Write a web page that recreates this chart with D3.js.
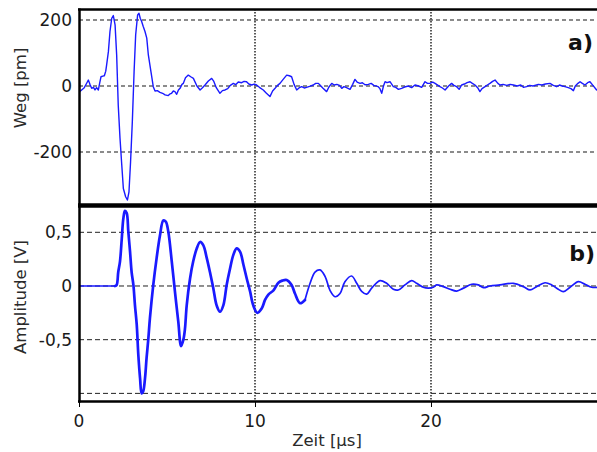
<!DOCTYPE html>
<html><head><meta charset="utf-8">
<script src="https://cdn.jsdelivr.net/npm/d3@7"></script>
<style>body{margin:0;background:#fff}svg{display:block}text{font-family:"DejaVu Sans",Verdana,sans-serif}</style>
</head><body>
<svg id="c" width="597" height="452"></svg>
<script>
// ---- data ----
const xTicks = [0, 10, 20];
const xTickLabels = ["0", "10", "20"];
const wegTicks = [-200, 0, 200];
const wegTickLabels = ["-200", "0", "200"];
const ampTicks = [-1, -0.5, 0, 0.5];
const ampTickLabels = ["", "-0,5", "0", "0,5"];
const wegT = [0,0.15,0.3,0.45,0.53,0.62,0.72,0.82,0.91,1.0,1.1,1.18,1.25,1.35,1.44,1.52,1.57,1.67,1.76,1.86,1.95,2.05,2.14,2.23,2.33,2.43,2.52,2.65,2.75,2.84,2.93,3.03,3.13,3.22,3.33,3.41,3.48,3.56,3.65,3.75,3.85,3.94,4.09,4.22,4.32,4.45,4.6,4.75,4.89,5.07,5.17,5.26,5.36,5.45,5.55,5.65,5.74,5.85,5.93,6.05,6.21,6.35,6.5,6.7,6.88,7.0,7.16,7.35,7.54,7.65,7.8,8.01,8.15,8.3,8.45,8.6,8.77,8.9,9.05,9.24,9.38,9.52,9.65,9.81,9.95,10.09,10.25,10.47,10.65,10.85,11.0,11.14,11.28,11.42,11.6,11.8,11.95,12.08,12.22,12.37,12.5,12.65,12.8,12.93,13.1,13.31,13.45,13.6,13.69,13.85,14.07,14.2,14.36,14.5,14.65,14.8,14.93,15.05,15.2,15.4,15.55,15.68,15.8,15.97,16.1,16.25,16.44,16.6,16.75,17.0,17.1,17.2,17.3,17.39,17.5,17.67,17.86,18.0,18.15,18.33,18.5,18.71,18.9,19.09,19.3,19.47,19.66,19.8,19.94,20.1,20.23,20.4,20.51,20.65,20.8,21.0,21.17,21.3,21.46,21.6,21.74,21.9,22.05,22.22,22.35,22.5,22.65,22.78,22.9,23.07,23.2,23.35,23.5,23.64,23.8,23.92,24.1,24.3,24.5,24.68,24.9,25.1,25.25,25.43,25.6,25.8,26.1,26.3,26.5,26.76,26.95,27.14,27.3,27.45,27.61,27.8,27.95,28.09,28.2,28.35,28.47,28.6,28.75,28.9,29.03,29.2,29.41,29.5];
const wegV = [-19,-12,-5,10,18,5,-7,-4,-12,-5,-12,10,28,30,31,45,64,104,165,205,213,185,94,-58,-158,-239,-310,-335,-345,-320,-229,-108,43,155,215,220,205,195,180,165,145,94,43,-2,-15,-14,-19,-22,-27,-29,-24,-22,-15,-17,-25,-12,-7,5,8,25,33,28,23,0,-12,-6,3,15,23,15,-5,-22,-14,-12,-8,2,8,4,12,10,14,13,6,3,6,3,-4,-12,-22,-32,-15,-7,2,8,20,33,31,28,5,-12,-6,-2,-6,-4,-1,3,8,8,3,-6,-17,-3,8,3,5,2,-7,-2,-5,-10,5,20,12,8,10,4,5,8,2,-2,-8,-22,0,13,10,13,-2,-4,-10,-7,-3,0,-5,3,0,-4,13,8,8,12,8,2,-2,-6,-12,0,8,2,-2,-10,3,6,10,13,8,3,-5,-17,-8,-2,3,8,14,18,8,3,5,2,5,3,0,3,-4,-2,2,0,5,3,6,8,2,-2,3,0,-2,-5,-8,-14,0,8,13,8,3,10,13,2,-12,-10];
const ampT = [0,2.05,2.14,2.23,2.33,2.43,2.52,2.61,2.71,2.8,2.9,2.99,3.09,3.18,3.28,3.37,3.47,3.56,3.65,3.75,3.84,3.94,4.03,4.22,4.41,4.6,4.79,4.93,5.07,5.27,5.45,5.64,5.8,5.93,6.02,6.12,6.31,6.49,6.69,6.88,7.06,7.26,7.44,7.63,7.82,8.01,8.2,8.39,8.58,8.77,8.96,9.15,9.34,9.53,9.72,9.9,10.13,10.38,10.57,10.76,11.05,11.33,11.55,11.8,12.08,12.27,12.56,12.84,13.13,13.41,13.69,13.98,14.26,14.55,14.83,15.11,15.49,15.78,16.06,16.35,16.63,17.1,17.48,17.86,18.14,18.52,18.9,19.18,19.56,19.85,20.13,20.32,20.7,21.08,21.46,21.84,22.31,22.69,22.98,23.35,23.92,24.68,25.25,25.63,26.0,26.48,26.86,27.23,27.52,27.9,28.37,28.75,29.13,29.5];
const ampV = [0,0,0.01,0.13,0.23,0.44,0.63,0.70,0.68,0.51,0.32,0.13,0.01,-0.18,-0.36,-0.64,-0.86,-1.0,-0.98,-0.86,-0.67,-0.49,-0.30,0.01,0.26,0.47,0.61,0.60,0.51,0.23,-0.05,-0.33,-0.56,-0.50,-0.40,-0.18,0.07,0.23,0.35,0.41,0.38,0.26,0.13,-0.02,-0.18,-0.24,-0.18,0.01,0.16,0.29,0.35,0.32,0.20,0.07,-0.05,-0.18,-0.25,-0.21,-0.13,-0.08,-0.04,0.03,0.05,0.056,0.01,-0.07,-0.16,-0.13,0.025,0.13,0.15,0.09,-0.04,-0.10,-0.07,0.04,0.093,0.025,-0.05,-0.075,-0.02,0.05,0.025,-0.03,-0.037,0.01,0.05,0.025,-0.012,-0.02,-0.012,0.01,-0.006,-0.03,-0.047,-0.02,0.016,0.01,-0.015,0,0.01,0.025,-0.006,-0.037,-0.006,0.03,0.01,-0.03,-0.053,-0.012,0.04,0.016,-0.012,-0.012];

// ---- layout ----
const svg = d3.select("#c");
const X0 = 79, X1 = 597;
const x = d3.scaleLinear().domain([0, 29.432]).range([X0, X1]);
const yW = d3.scaleLinear().domain([-360, 233]).range([205, 9]);
const yA = d3.scaleLinear().domain([-1.071, 0.745]).range([401, 206]);
const blue = "#1a1aff";

function grid(g, y, ticks, top, bot, hStroke, hWidth, hDash) {
  g.append("g").selectAll("line").data(ticks).join("line")
    .attr("x1", X0).attr("x2", X1).attr("y1", d => y(d)).attr("y2", d => y(d))
    .attr("stroke", hStroke).attr("stroke-width", hWidth).attr("stroke-dasharray", hDash);
  g.append("g").selectAll("line").data(xTicks.slice(1)).join("line")
    .attr("x1", d => x(d)).attr("x2", d => x(d)).attr("y1", top).attr("y2", bot)
    .attr("stroke", "#333").attr("stroke-width", 1.6).attr("stroke-dasharray", "1.5,1.5");
}

// top panel
const gT = svg.append("g");
grid(gT, yW, wegTicks, 9, 205, "#666", 1.5, "4,3");
svg.append("clipPath").attr("id", "clipT").append("rect").attr("x", X0).attr("y", 9).attr("width", X1 - X0).attr("height", 196);
gT.append("path").datum(wegT.map((t, i) => [t, wegV[i]]))
  .attr("clip-path", "url(#clipT)")
  .attr("fill", "none").attr("stroke", blue).attr("stroke-width", 1.4).attr("stroke-linejoin", "round")
  .attr("d", d3.line().x(d => x(d[0])).y(d => yW(d[1])));
gT.selectAll("text.yt").data(wegTicks).join("text").attr("class", "yt")
  .attr("x", 72).attr("y", d => yW(d)).attr("dy", "0.36em").attr("text-anchor", "end")
  .attr("font-size", 17).attr("fill", "#1a1a1a").text((d, i) => wegTickLabels[i]);

// bottom panel
const gB = svg.append("g");
grid(gB, yA, ampTicks, 206, 401, "#222", 1, "5,3");
svg.append("clipPath").attr("id", "clipB").append("rect").attr("x", X0).attr("y", 206).attr("width", X1 - X0).attr("height", 195);
const ampPts = ampT.map((t, i) => [t, ampV[i]]);
const lineA = d3.line().x(d => x(d[0])).y(d => yA(d[1])).curve(d3.curveCatmullRom.alpha(0.5));
const segs = [[0, 2.05, 1.7], [2.05, 12.84, 2.7], [12.84, 30, 1.7]];
segs.forEach(([a, b, w]) => {
  gB.append("path").datum(ampPts.filter(d => d[0] >= a && d[0] <= b))
    .attr("clip-path", "url(#clipB)")
    .attr("fill", "none").attr("stroke", blue).attr("stroke-width", w).attr("stroke-linejoin", "round").attr("stroke-linecap", "round")
    .attr("d", lineA);
});
gB.selectAll("text.yt").data(ampTicks).join("text").attr("class", "yt")
  .attr("x", 72).attr("y", d => yA(d)).attr("dy", "0.36em").attr("text-anchor", "end")
  .attr("font-size", 17).attr("fill", "#1a1a1a").text((d, i) => ampTickLabels[i]);

// frame lines
svg.append("line").attr("x1", X0 - 1).attr("x2", X1).attr("y1", 9.5).attr("y2", 9.5).attr("stroke", "#000").attr("stroke-width", 2.5);
svg.append("line").attr("x1", X0 - 1).attr("x2", X1).attr("y1", 205.5).attr("y2", 205.5).attr("stroke", "#000").attr("stroke-width", 4.5);
svg.append("line").attr("x1", X0 - 1).attr("x2", X1).attr("y1", 401.5).attr("y2", 401.5).attr("stroke", "#000").attr("stroke-width", 2.5);
svg.append("line").attr("x1", X0 + 0.5).attr("x2", X0 + 0.5).attr("y1", 8.5).attr("y2", 402.5).attr("stroke", "#000").attr("stroke-width", 2.5);

// x axis ticks and labels
svg.append("g").selectAll("line").data(xTicks).join("line")
  .attr("x1", d => x(d) + 0.5).attr("x2", d => x(d) + 0.5).attr("y1", 402).attr("y2", 407)
  .attr("stroke", "#000").attr("stroke-width", 1);
svg.append("g").selectAll("text").data(xTicks).join("text")
  .attr("x", d => x(d)).attr("y", 427).attr("text-anchor", "middle")
  .attr("font-size", 17).attr("fill", "#1a1a1a").text((d, i) => xTickLabels[i]);

// axis titles
svg.append("text").attr("x", 327).attr("y", 446).attr("text-anchor", "middle").attr("font-size", 16.5).attr("fill", "#2a2a2a").text("Zeit [µs]");
svg.append("text").attr("transform", "translate(26,88) rotate(-90)").attr("text-anchor", "middle").attr("font-size", 16.5).attr("fill", "#2a2a2a").text("Weg [pm]");
svg.append("text").attr("transform", "translate(26,297) rotate(-90)").attr("text-anchor", "middle").attr("font-size", 16.5).attr("fill", "#2a2a2a").text("Amplitude [V]");

// panel tags
svg.append("text").attr("x", 593).attr("y", 50).attr("text-anchor", "end").attr("font-size", 22).attr("font-weight", "bold").attr("fill", "#111").text("a)");
svg.append("text").attr("x", 595).attr("y", 261).attr("text-anchor", "end").attr("font-size", 22).attr("font-weight", "bold").attr("fill", "#111").text("b)");
</script>
</body></html>
